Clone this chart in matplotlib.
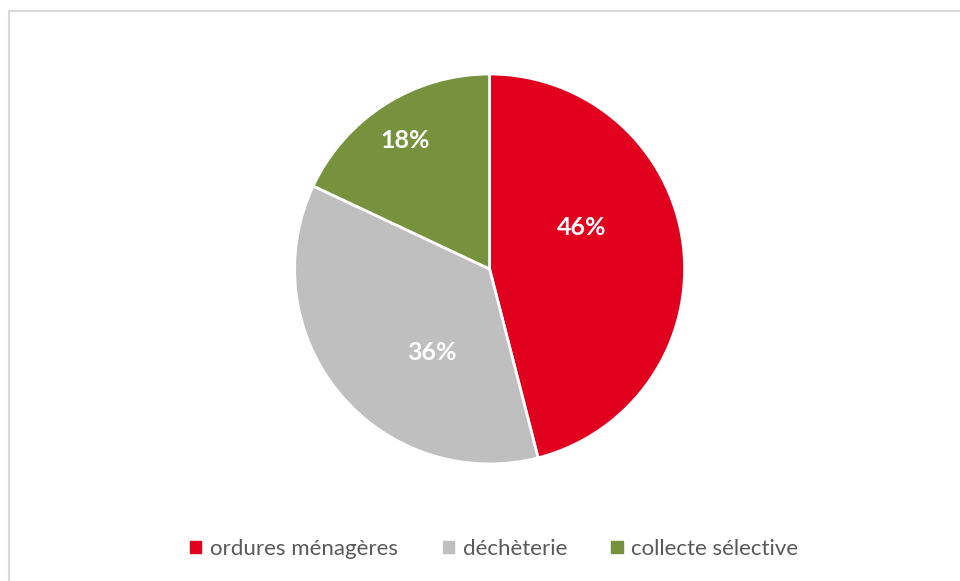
import numpy as np
import matplotlib
matplotlib.use("Agg")
import matplotlib.pyplot as plt
from matplotlib.patches import Rectangle

# data
categories = ["ordures ménagères", "déchèterie", "collecte sélective"]
shares = [46, 36, 18]
colors = ["#E2001F", "#BFBFBF", "#76923C"]

# label placement (Excel "best fit" look): radial distance and angle shift in degrees
label_dist = [0.52, 0.52, 0.79]
label_shift = [17, 16, 1]

plt.rcParams["font.family"] = ["Lato", "DejaVu Sans"]

fig = plt.figure(figsize=(9.6, 5.81), dpi=100)

# light frame of the chart area (right and bottom edges fall outside the image)
fig.patches.append(Rectangle((9 / 960, -0.05), 1.1, 1.05 - 11 / 581, transform=fig.transFigure,
                             fill=False, edgecolor="#D9D9D9", linewidth=1.5))

ax = fig.add_axes([0.510 - 0.2031, 0.537 - 0.3356, 0.4062, 0.6713])
wedges, _ = ax.pie(shares, colors=colors, startangle=90, counterclock=False,
                   wedgeprops=dict(edgecolor="white", linewidth=2))
ax.set_xlim(-1, 1)
ax.set_ylim(-1, 1)
ax.set_aspect("equal")
ax.axis("off")

for w, s, d, sh in zip(wedges, shares, label_dist, label_shift):
    mid = np.deg2rad((w.theta1 + w.theta2) / 2 + sh)
    ax.text(d * np.cos(mid), d * np.sin(mid), f"{s}%", ha="center", va="center",
            color="white", fontsize=18, fontweight="bold")

handles = [Rectangle((0, 0), 1, 1, color=c) for c in colors]
fig.legend(handles, categories, loc="center", bbox_to_anchor=(0.515, 1 - 549 / 581),
           ncol=3, frameon=False, fontsize=16, labelcolor="#595959",
           handlelength=0.5, handleheight=0.5, handletextpad=0.4, columnspacing=2.0)

fig.savefig("out.png", dpi=100)
